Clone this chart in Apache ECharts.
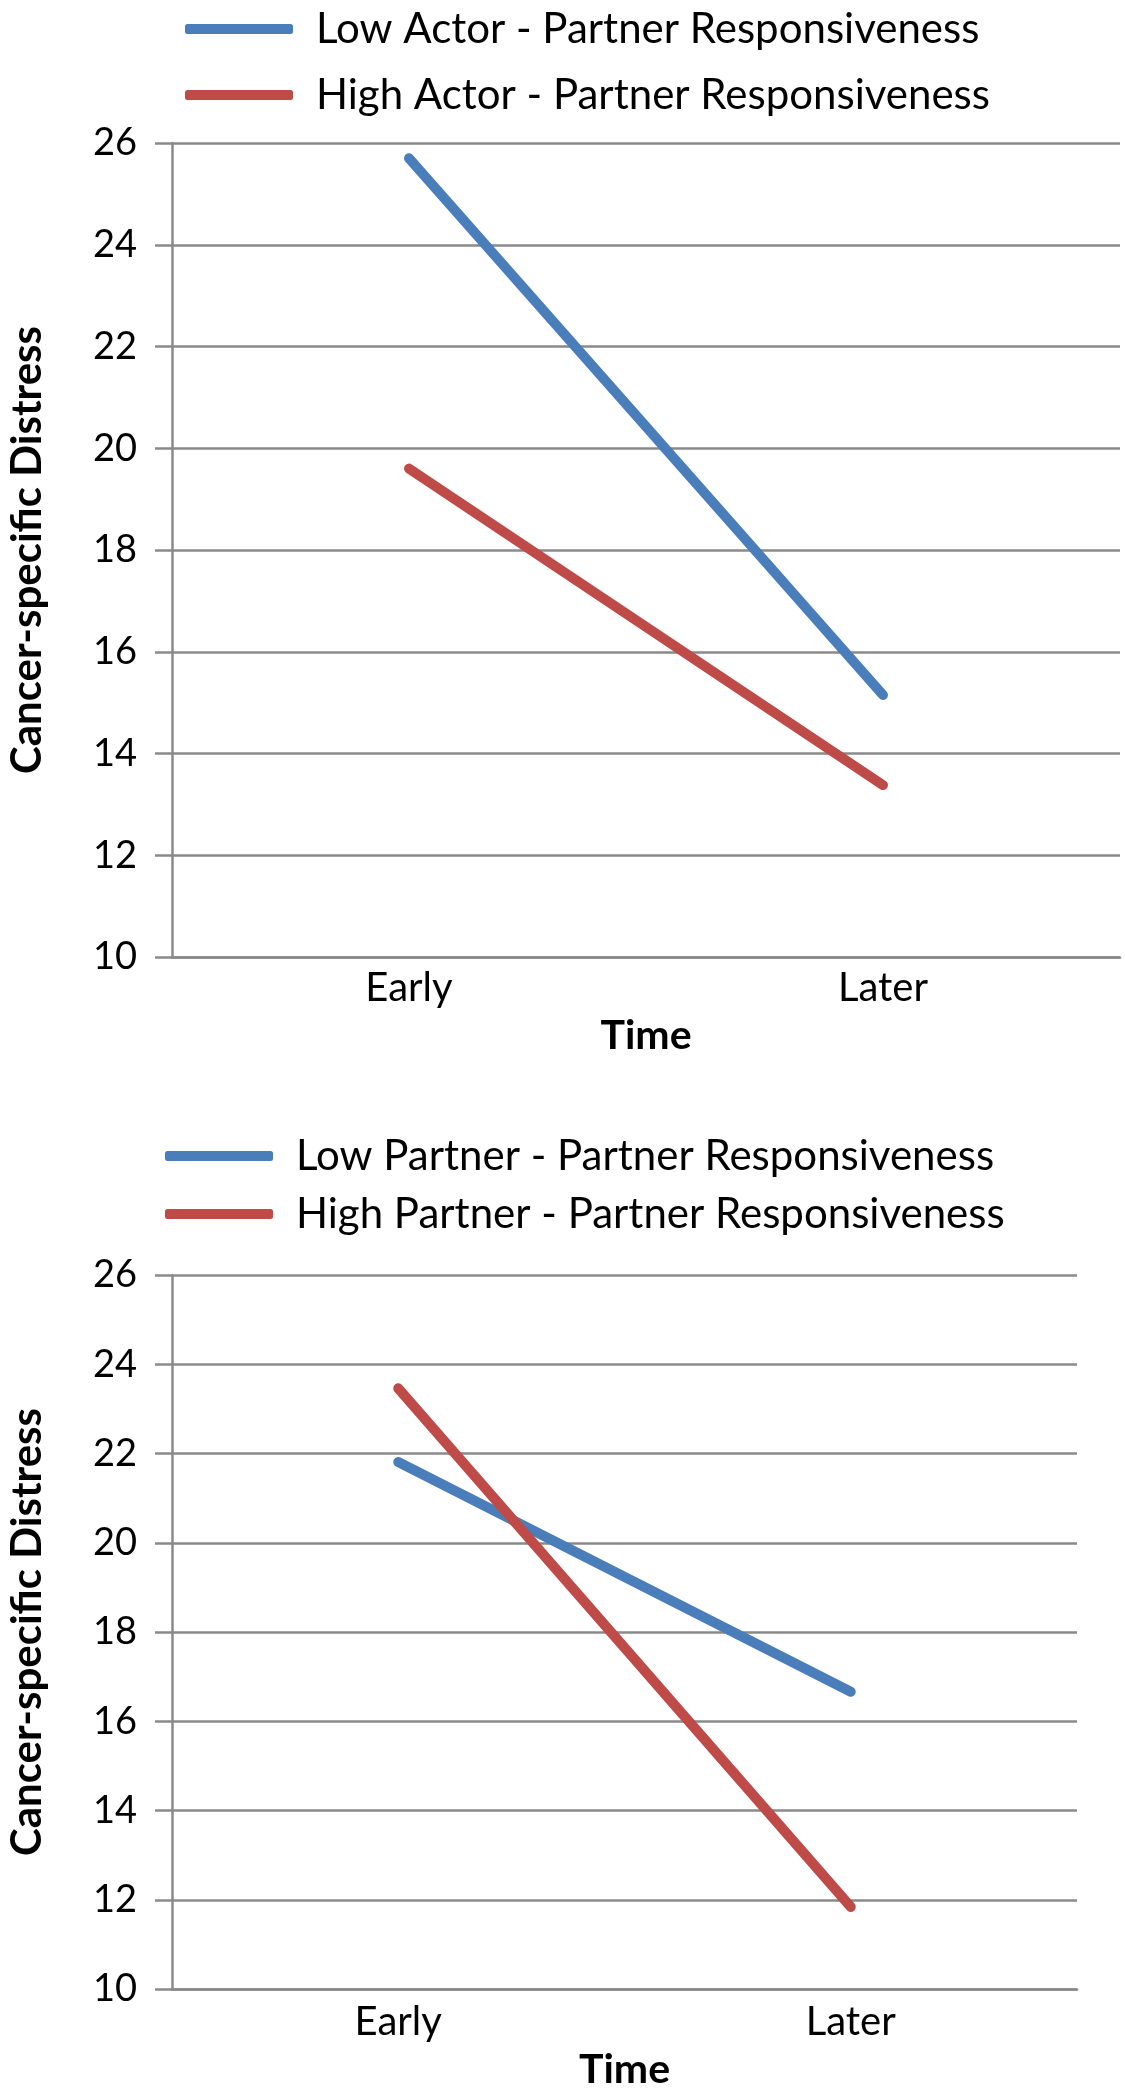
<!DOCTYPE html>
<html>
<head>
<meta charset="utf-8">
<script src="https://cdn.jsdelivr.net/npm/echarts@6/dist/echarts.min.js"></script>
<style>
html,body{margin:0;padding:0;background:#fff;}
#c{width:1125px;height:2100px;}
</style>
</head>
<body>
<div id="c"></div>
<script>
const categories = ['Early', 'Later'];
const lowActor = [25.7, 15.15];
const highActor = [19.6, 13.38];
const lowPartner = [21.81, 16.66];
const highPartner = [23.46, 11.84];
const seriesNamesTop = ['Low Actor - Partner Responsiveness', 'High Actor - Partner Responsiveness'];
const seriesNamesBottom = ['Low Partner - Partner Responsiveness', 'High Partner - Partner Responsiveness'];
const yMin = 10, yMax = 26, yStep = 2;
const yTitle = 'Cancer-specific Distress';
const xTitle = 'Time';

const BLUE = '#4a7ebb', RED = '#be4b48', GRID = '#8a8a8a';
const FONT = 'Lato';

function yAxis(idx) {
  return {
    type: 'value', gridIndex: idx, min: yMin, max: yMax, interval: yStep,
    name: yTitle, nameLocation: 'middle', nameRotate: 90, nameGap: 124,
    nameTextStyle: {fontFamily: FONT, fontWeight: 'bold', fontSize: 42, color: '#000'},
    axisLine: {show: true, lineStyle: {color: GRID, width: 2.5}},
    axisTick: {show: true, inside: false, length: 17, lineStyle: {color: GRID, width: 2.5}},
    splitLine: {show: true, lineStyle: {color: GRID, width: 2.5}},
    axisLabel: {fontFamily: FONT, fontSize: 38, color: '#000', margin: 35}
  };
}
function xAxis(idx, nameGap, margin) {
  return {
    type: 'category', gridIndex: idx, data: categories, boundaryGap: true,
    name: xTitle, nameLocation: 'middle', nameGap: nameGap,
    nameTextStyle: {fontFamily: FONT, fontWeight: 'bold', fontSize: 41, color: '#000'},
    axisLine: {show: true, lineStyle: {color: GRID, width: 2.5}},
    axisTick: {show: false},
    axisLabel: {fontFamily: FONT, fontSize: 40, color: '#000', margin: margin}
  };
}
function line(name, data, color, idx) {
  return {
    type: 'line', name: name, data: data, xAxisIndex: idx, yAxisIndex: idx,
    symbol: 'none', color: color,
    lineStyle: {color: color, width: 10, cap: 'round'},
    emphasis: {disabled: true}, animation: false
  };
}
function legend(names, left, top, gap) {
  return {
    data: names, orient: 'vertical', left: left, top: top, itemGap: gap,
    itemWidth: 108, itemHeight: 10, icon: 'roundRect', padding: 0,
    textStyle: {fontFamily: FONT, fontSize: 42, color: '#000', lineHeight: 44, padding: [0, 0, 0, 18]},
    selectedMode: false
  };
}

const chart = echarts.init(document.getElementById('c'), null, {renderer: 'canvas'});
chart.setOption({
  backgroundColor: '#fff',
  animation: false,
  legend: [
    legend(seriesNamesTop, 185, 7, 22),
    legend(seriesNamesBottom, 165, 1134, 14)
  ],
  grid: [
    {left: 172, top: 143, width: 948, height: 814, outerBoundsMode: 'none'},
    {left: 172, top: 1275, width: 905, height: 714, outerBoundsMode: 'none'}
  ],
  xAxis: [xAxis(0, 58, 11), xAxis(1, 60, 13)],
  yAxis: [yAxis(0), yAxis(1)],
  series: [
    line(seriesNamesTop[0], lowActor, BLUE, 0),
    line(seriesNamesTop[1], highActor, RED, 0),
    line(seriesNamesBottom[0], lowPartner, BLUE, 1),
    line(seriesNamesBottom[1], highPartner, RED, 1)
  ]
});
</script>
</body>
</html>
